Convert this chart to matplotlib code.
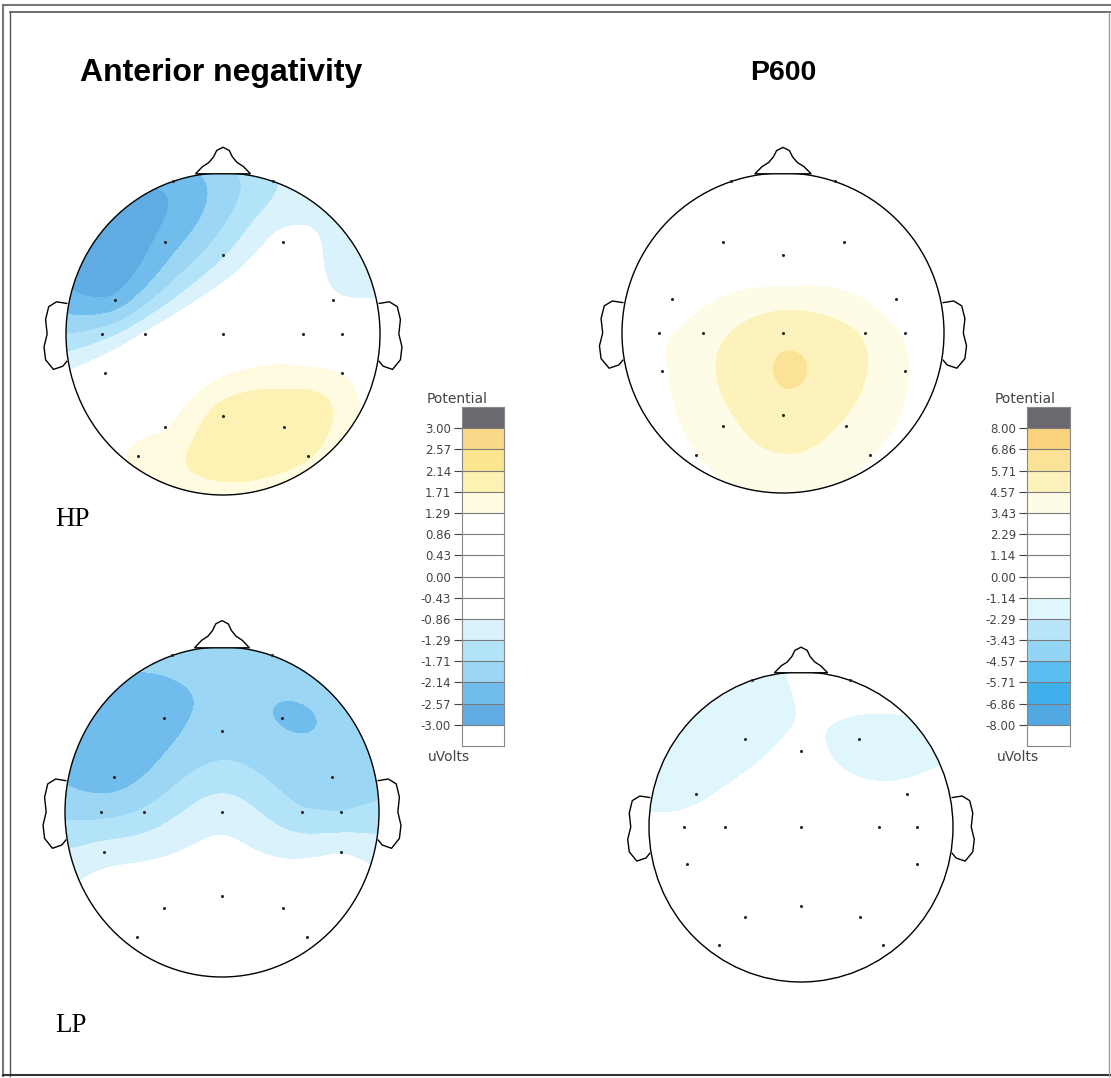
import numpy as np
import matplotlib
matplotlib.use("Agg")
import matplotlib.pyplot as plt
from matplotlib.patches import Ellipse, Polygon
from matplotlib.lines import Line2D

W, H = 1111, 1078

# ---------------- data ----------------
electrodes = ['Fp1', 'Fp2', 'F7', 'F3', 'Fz', 'F4', 'F8', 'T3', 'C3', 'Cz', 'C4',
              'T4', 'T5', 'P3', 'Pz', 'P4', 'T6', 'O1', 'O2']
elec_x = [-0.32, 0.32, -0.69, -0.37, 0.00, 0.38, 0.70, -0.77, -0.50, 0.00, 0.51,
          0.76, -0.75, -0.37, 0.00, 0.39, 0.76, -0.54, 0.54]
elec_y = [0.95, 0.95, 0.21, 0.57, 0.49, 0.57, 0.21, 0.00, 0.00, 0.00, 0.00,
          0.00, -0.24, -0.58, -0.51, -0.58, -0.24, -0.76, -0.76]

# potentials (uVolts) per electrode
an_hp = [-2.45, -1.35, -2.45, -2.4, -1.35, -0.7, -0.75, -1.5, -0.8, 0.3, 0.45,
         0.0, -0.4, 1.25, 1.9, 1.95, 1.25, 1.45, 1.75]
an_lp = [-1.95, -1.85, -2.33, -2.3, -1.95, -2.16, -1.95, -1.85, -1.65, -1.05, -1.65,
         -1.7, -1.1, -0.4, -0.5, -0.4, -0.9, -0.2, -0.2]
p600_hp = [0.8, 1.0, 2.6, 2.0, 2.0, 2.0, 2.7, 3.2, 4.0, 5.4, 4.4,
           3.3, 3.3, 4.2, 5.4, 4.4, 3.5, 3.4, 3.5]
p600_lp = [-1.75, -0.3, -1.35, -1.65, -0.9, -1.55, -0.9, -0.8, -0.3, 0.1, -0.3,
           -0.3, -0.2, 0.3, 0.5, 0.3, 0.0, 0.3, 0.3]

an_levels = [-3.00, -2.57, -2.14, -1.71, -1.29, -0.86, -0.43, 0.00,
             0.43, 0.86, 1.29, 1.71, 2.14, 2.57, 3.00]
p6_levels = [-8.00, -6.86, -5.71, -4.57, -3.43, -2.29, -1.14, 0.00,
             1.14, 2.29, 3.43, 4.57, 5.71, 6.86, 8.00]
an_labels = [f"{v:.2f}" for v in an_levels]
p6_labels = [f"{v:.2f}" for v in p6_levels]

an_colors = ['#60abe2', '#70bcec', '#9cd6f5', '#b2e3f8', '#d9f2fc',
             '#ffffff', '#ffffff', '#ffffff', '#ffffff', '#ffffff',
             '#fefbe0', '#fdf2b3', '#fbe58f', '#f9d888']
p6_colors = ['#52a8e0', '#3fb0ec', '#5cbef0', '#94d4f4', '#b8e6f8', '#e0f6fd',
             '#ffffff', '#ffffff', '#ffffff', '#ffffff',
             '#fefbe6', '#fdf1bc', '#fbe296', '#f8d27c']
over_color = '#6b6870'
under_color = '#ffffff'

# head outline shapes (head-radius units)
nose_x = [-0.175, -0.13, -0.09, -0.06, -0.04, 0.0, 0.04, 0.06, 0.09, 0.13, 0.175]
nose_y = [0.995, 1.04, 1.065, 1.10, 1.14, 1.16, 1.14, 1.10, 1.065, 1.04, 0.995]
ear_x = [-0.995, -1.06, -1.11, -1.13, -1.12, -1.14, -1.13, -1.08, -1.02, -0.995]
ear_y = [0.19, 0.20, 0.17, 0.09, 0.0, -0.08, -0.16, -0.22, -0.20, -0.17]


def green(d):
    g = np.zeros_like(d)
    m = d > 0
    g[m] = d[m] ** 2 * (np.log(d[m]) - 1.0)
    return g


def biharmonic(xe, ye, v, X, Y):
    xe = np.asarray(xe); ye = np.asarray(ye); v = np.asarray(v, float)
    d = np.hypot(xe[:, None] - xe[None, :], ye[:, None] - ye[None, :])
    w = np.linalg.solve(green(d), v)
    dg = np.hypot(X[..., None] - xe, Y[..., None] - ye)
    return green(dg) @ w


fig = plt.figure(figsize=(W / 100, H / 100), dpi=100)
fig.patch.set_facecolor('white')


def fig_rect(x0, y0, x1, y1):
    return [x0 / W, 1 - y1 / H, (x1 - x0) / W, (y1 - y0) / H]


def topo(cx, cy, rx, ry, values, levels, band_colors):
    ax = fig.add_axes(fig_rect(cx - 1.3 * rx, cy - 1.3 * ry, cx + 1.3 * rx, cy + 1.3 * ry))
    ax.set_xlim(-1.3, 1.3)
    ax.set_ylim(-1.3, 1.3)
    ax.axis('off')
    g = np.linspace(-1.02, 1.02, 261)
    X, Y = np.meshgrid(g, g)
    Z = biharmonic(elec_x, elec_y, values, X, Y)
    bounds = [-1e3] + list(levels) + [1e3]
    cols = [under_color] + list(band_colors) + [over_color]
    head = Ellipse((0, 0), 2, 2, facecolor='none', edgecolor='black', lw=1.0, zorder=3)
    ax.add_patch(head)
    cs = ax.contourf(X, Y, Z, levels=bounds, colors=cols, zorder=1)
    cs.set_clip_path(head)
    ax.add_patch(Polygon(np.column_stack([nose_x, nose_y]), closed=True,
                         facecolor='white', edgecolor='black', lw=1.0, zorder=3))
    for s in (1, -1):
        ax.plot(np.array(ear_x) * s, ear_y, color='black', lw=1.0, zorder=3)
    ax.plot(elec_x, elec_y, 'o', ms=2.2, color='#222222', mec='none', zorder=4)
    return ax


def cbar(x0, x1, levels, band_colors, labels, pot_x, uv_x):
    y0, y1 = 407, 746
    ax = fig.add_axes(fig_rect(x0, y0, x1, y1))
    step = levels[1] - levels[0]
    edges = [levels[0] - step] + list(levels) + [levels[-1] + step]
    cols = [under_color] + list(band_colors) + [over_color]
    ax.bar(0, np.diff(edges), bottom=edges[:-1], width=1, align='edge',
           color=cols, edgecolor='none')
    ax.set_xlim(0, 1)
    ax.set_ylim(edges[0], edges[-1])
    ax.hlines(levels, 0, 1, colors='#7a7a7a', lw=0.8)
    ax.set_xticks([])
    ax.set_yticks(levels)
    ax.set_yticklabels(labels)
    ax.tick_params(axis='y', direction='out', length=6, width=0.8, color='#444444',
                   labelsize=8.5, labelcolor='#444444', pad=2)
    for sp in ax.spines.values():
        sp.set_color('#888888')
        sp.set_linewidth(0.8)
    fig.text(pot_x / W, 1 - 399 / H, 'Potential', ha='center', va='center',
             fontsize=10, color='#444444')
    fig.text(uv_x / W, 1 - 757 / H, 'uVolts', ha='center', va='center',
             fontsize=10, color='#444444')


topo(223, 334, 157, 161, an_hp, an_levels, an_colors)
topo(222, 812, 157, 165, an_lp, an_levels, an_colors)
topo(783, 333, 161, 160, p600_hp, p6_levels, p6_colors)
topo(801, 827, 152, 155, p600_lp, p6_levels, p6_colors)

cbar(462, 504, an_levels, an_colors, an_labels, 457, 449)
cbar(1027, 1070, p6_levels, p6_colors, p6_labels, 1025, 1018)

fig.text(80 / W, 1 - 73 / H, 'Anterior negativity', ha='left', va='center',
         fontsize=23, fontweight='bold', family='Liberation Sans')
fig.text(783 / W, 1 - 73 / H, 'P600', ha='center', va='center',
         fontsize=20.5, fontweight='bold', family='Liberation Sans')
fig.text(55 / W, 1 - 520 / H, 'HP', ha='left', va='center',
         fontsize=19.5, family='Liberation Serif')
fig.text(55 / W, 1 - 1025 / H, 'LP', ha='left', va='center',
         fontsize=19.5, family='Liberation Serif')


# frame
def fline(xs, ys, color, lw):
    fig.add_artist(Line2D([x / W for x in xs], [1 - y / H for y in ys],
                          transform=fig.transFigure, color=color, lw=lw))


fline([3, 1111], [5, 5], '#777777', 1.5)
fline([10, 1111], [12, 12], '#555555', 1.2)
fline([3, 3], [5, 1076], '#777777', 1.5)
fline([10, 10], [12, 1076], '#555555', 1.0)
fline([3, 1111], [1075, 1075], '#333333', 1.5)
fline([1109, 1109], [12, 1076], '#999999', 1.0)

fig.savefig('out.png', dpi=100, facecolor='white')
